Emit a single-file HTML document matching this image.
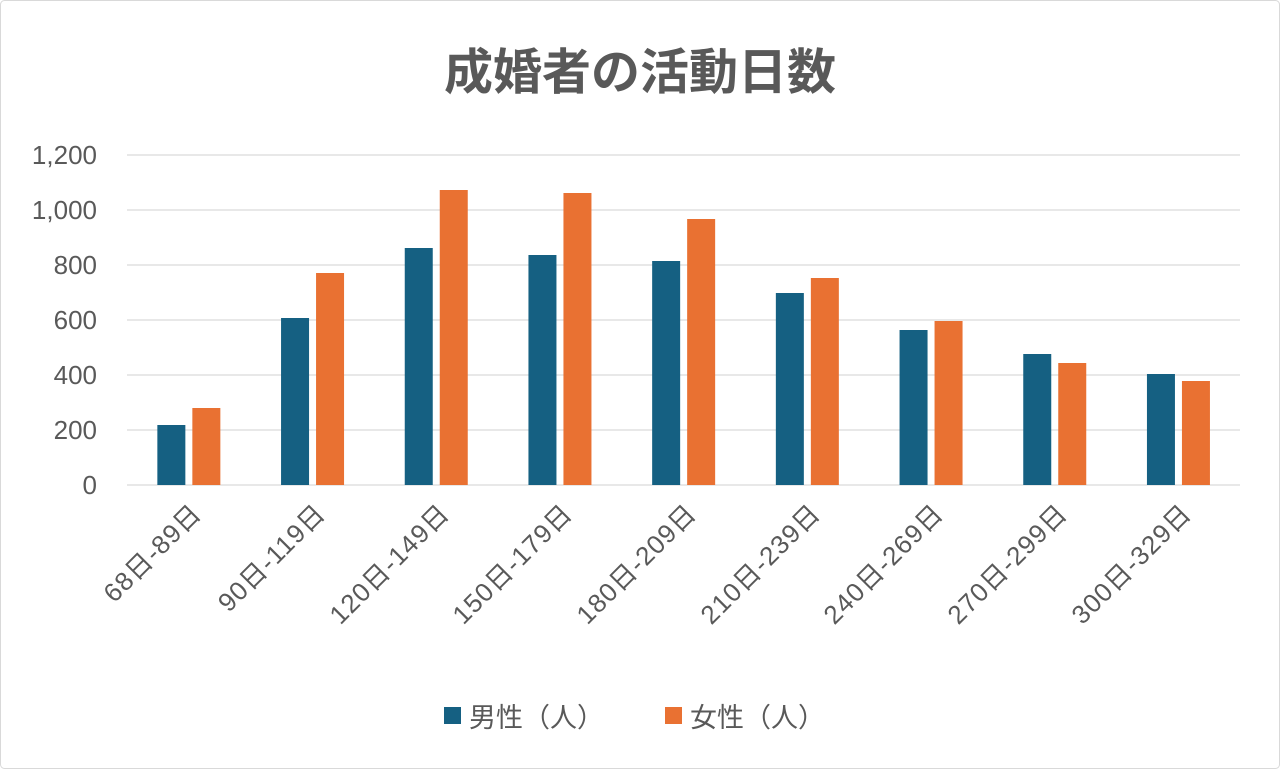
<!DOCTYPE html>
<html><head><meta charset="utf-8"><style>
body{margin:0;background:#fff;}
svg text{font-family:"Liberation Sans","Noto Sans CJK JP",sans-serif;fill:#595959;}
</style></head><body>
<svg width="1280" height="769" xmlns="http://www.w3.org/2000/svg">
<rect x="0.5" y="0.5" width="1279" height="768" rx="4" fill="#fff" stroke="#d9d9d9"/>
<text x="640" y="89" text-anchor="middle" font-size="49" font-weight="bold">成婚者の活動日数</text>
<g stroke="#d9d9d9" stroke-width="1.3">
<line x1="127" x2="1240" y1="155" y2="155"/><line x1="127" x2="1240" y1="210" y2="210"/>
<line x1="127" x2="1240" y1="265" y2="265"/><line x1="127" x2="1240" y1="320" y2="320"/>
<line x1="127" x2="1240" y1="375" y2="375"/><line x1="127" x2="1240" y1="430" y2="430"/>
<line x1="127" x2="1240" y1="485" y2="485"/>
</g>
<g font-size="26" text-anchor="end">
<text x="97" y="164">1,200</text><text x="97" y="219">1,000</text><text x="97" y="274">800</text>
<text x="97" y="329">600</text><text x="97" y="384">400</text><text x="97" y="439">200</text><text x="97" y="494">0</text>
</g>
<g fill="#156082">
<rect x="157.35" y="425" width="28" height="60"/>
<rect x="281.05" y="318" width="28" height="167"/>
<rect x="404.75" y="248" width="28" height="237"/>
<rect x="528.45" y="255" width="28" height="230"/>
<rect x="652.15" y="261" width="28" height="224"/>
<rect x="775.85" y="293" width="28" height="192"/>
<rect x="899.55" y="330" width="28" height="155"/>
<rect x="1023.25" y="354" width="28" height="131"/>
<rect x="1146.95" y="374" width="28" height="111"/>
</g>
<g fill="#e97132">
<rect x="192.35" y="408" width="28" height="77"/>
<rect x="316.05" y="273" width="28" height="212"/>
<rect x="439.75" y="190" width="28" height="295"/>
<rect x="563.45" y="193" width="28" height="292"/>
<rect x="687.15" y="219" width="28" height="266"/>
<rect x="810.85" y="278" width="28" height="207"/>
<rect x="934.55" y="321" width="28" height="164"/>
<rect x="1058.25" y="363" width="28" height="122"/>
<rect x="1181.95" y="381" width="28" height="104"/>
</g>
<g font-size="26" text-anchor="end" letter-spacing="1">
<text transform="translate(203,515) rotate(-45)">68日-89日</text>
<text transform="translate(327,515) rotate(-45)">90日-119日</text>
<text transform="translate(451,515) rotate(-45)">120日-149日</text>
<text transform="translate(574,515) rotate(-45)">150日-179日</text>
<text transform="translate(698,515) rotate(-45)">180日-209日</text>
<text transform="translate(822,515) rotate(-45)">210日-239日</text>
<text transform="translate(945,515) rotate(-45)">240日-269日</text>
<text transform="translate(1069,515) rotate(-45)">270日-299日</text>
<text transform="translate(1193,515) rotate(-45)">300日-329日</text>
</g>
<rect x="444" y="707" width="17" height="17" fill="#156082"/>
<text x="469" y="727" font-size="27">男性（人）</text>
<rect x="665" y="707" width="17" height="17" fill="#e97132"/>
<text x="690" y="727" font-size="27">女性（人）</text>
</svg>
</body></html>
